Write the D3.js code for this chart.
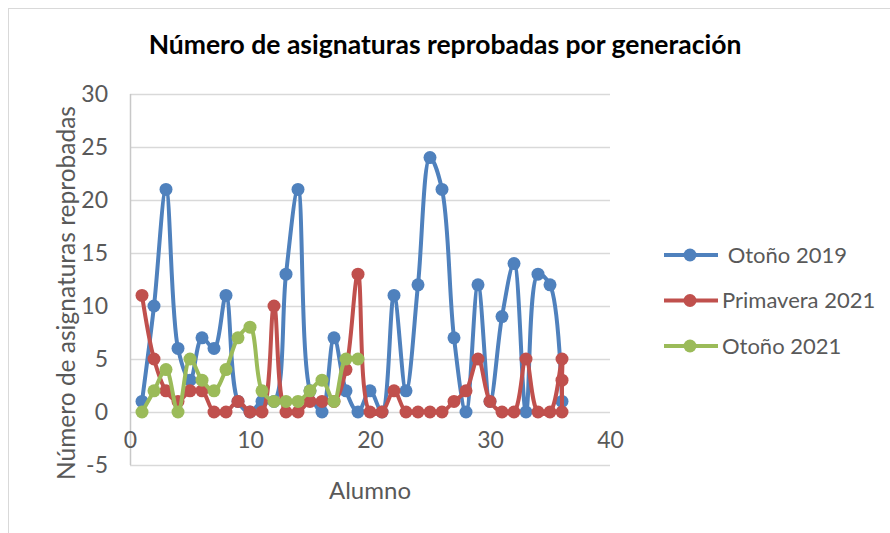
<!DOCTYPE html>
<html>
<head>
<meta charset="utf-8">
<script src="https://cdn.jsdelivr.net/npm/d3@7"></script>
<style>
  html, body { margin: 0; padding: 0; background: #fff; }
  svg { display: block; }
  text { font-family: Lato, "Open Sans", sans-serif; }
</style>
</head>
<body>
<svg id="chart" width="890" height="533"></svg>
<script>
// Alumnos (eje X) y asignaturas reprobadas por generación
const alumnos2019 = [1,2,3,4,5,6,7,8,9,10,11,12,13,14,15,16,17,18,19,20,21,22,23,24,25,26,27,28,29,30,31,32,33,34,35,36];
const otono2019   = [1,10,21,6,3,7,6,11,1,0,1,1,13,21,2,0,7,2,0,2,0,11,2,12,24,21,7,0,12,1,9,14,0,13,12,1];

const alumnosPrim2021 = [1,2,3,4,5,6,7,8,9,10,11,12,13,14,15,16,17,18,19,20,21,22,23,24,25,26,27,28,29,30,31,32,33,34,35,36,36,36];
const primavera2021   = [11,5,2,1,2,2,0,0,1,0,0,10,0,0,1,1,1,4,13,0,0,2,0,0,0,0,1,2,5,1,0,0,5,0,0,5,3,0];

const alumnos2021 = [1,2,3,4,5,6,7,8,9,10,11,12,13,14,15,16,17,18,19];
const otono2021   = [0,2,4,0,5,3,2,4,7,8,2,1,1,1,2,3,1,5,5];

const seriesNames  = [" Otoño 2019", "Primavera 2021", "Otoño 2021"];
const seriesColors = ["#4F81BD", "#C0504D", "#9BBB59"];

const xTicks = [0, 10, 20, 30, 40];
const yTicks = [-5, 0, 5, 10, 15, 20, 25, 30];

const title  = "Número de asignaturas reprobadas por generación";
const xTitle = "Alumno";
const yTitle = "Número de asignaturas reprobadas";

const series = [
  { name: seriesNames[0], color: seriesColors[0], xs: alumnos2019,     ys: otono2019 },
  { name: seriesNames[1], color: seriesColors[1], xs: alumnosPrim2021, ys: primavera2021 },
  { name: seriesNames[2], color: seriesColors[2], xs: alumnos2021,     ys: otono2021 }
];

const svg = d3.select("#chart");
const textColor = "#595959";
const gridColor = "#D9D9D9";

// chart area border
svg.append("rect")
  .attr("x", 8.5).attr("y", 8.5)
  .attr("width", 900).attr("height", 600)
  .attr("fill", "none").attr("stroke", gridColor).attr("stroke-width", 1);

const x = d3.scaleLinear().domain([0, 40]).range([130, 610]);
const y = d3.scaleLinear().domain([-5, 30]).range([465, 94]);

// horizontal gridlines
svg.append("g").selectAll("line")
  .data(yTicks)
  .join("line")
  .attr("x1", x(0)).attr("x2", x(40))
  .attr("y1", d => Math.round(y(d)) + 0.5).attr("y2", d => Math.round(y(d)) + 0.5)
  .attr("stroke", gridColor).attr("stroke-width", 1.5);

// vertical axis line
svg.append("line")
  .attr("x1", x(0) + 0.5).attr("x2", x(0) + 0.5)
  .attr("y1", y(30)).attr("y2", y(-5))
  .attr("stroke", "#C8C8C8").attr("stroke-width", 1.5);

// y axis labels (plain hyphen for negatives)
const yAxis = svg.append("g")
  .attr("transform", `translate(${x(0)},0)`)
  .call(d3.axisLeft(y).tickValues(yTicks).tickSize(0).tickPadding(22).tickFormat(d => String(d)));
yAxis.select(".domain").remove();
yAxis.selectAll("text")
  .attr("fill", textColor)
  .style("font-size", "23px");

// x axis labels, placed beside the axis crossing at y = 0
const xAxis = svg.append("g")
  .attr("transform", `translate(0,${y(0)})`)
  .call(d3.axisBottom(x).tickValues(xTicks).tickSize(0).tickPadding(20).tickFormat(d => String(d)));
xAxis.select(".domain").remove();
xAxis.selectAll("text")
  .attr("fill", textColor)
  .style("font-size", "23px");

// smoothed lines with markers, one series at a time
const line = d3.line()
  .x(d => x(d[0]))
  .y(d => y(d[1]))
  .curve(d3.curveCatmullRom.alpha(0.5));

series.forEach(s => {
  const pts = s.xs.map((v, i) => [v, s.ys[i]]);
  const g = svg.append("g");
  g.append("path")
    .datum(pts)
    .attr("d", line)
    .attr("fill", "none")
    .attr("stroke", s.color)
    .attr("stroke-width", 4)
    .attr("stroke-linejoin", "round")
    .attr("stroke-linecap", "round");
  g.selectAll("circle")
    .data(pts)
    .join("circle")
    .attr("cx", d => x(d[0]))
    .attr("cy", d => y(d[1]))
    .attr("r", 6.5)
    .attr("fill", s.color);
});

// title
svg.append("text")
  .attr("x", 445).attr("y", 54)
  .attr("text-anchor", "middle")
  .attr("fill", "#000")
  .style("font-size", "26.5px")
  .style("font-weight", "bold")
  .text(title);

// axis titles
svg.append("text")
  .attr("x", 370).attr("y", 499)
  .attr("text-anchor", "middle")
  .attr("fill", textColor)
  .style("font-size", "24px")
  .text(xTitle);

svg.append("text")
  .attr("transform", "translate(75,293) rotate(-90)")
  .attr("text-anchor", "middle")
  .attr("fill", textColor)
  .style("font-size", "24.5px")
  .text(yTitle);

// legend
const legend = svg.append("g");
series.forEach((s, i) => {
  const cy = 255 + i * 45.5;
  legend.append("line")
    .attr("x1", 664).attr("x2", 718)
    .attr("y1", cy).attr("y2", cy)
    .attr("stroke", s.color).attr("stroke-width", 4);
  legend.append("circle")
    .attr("cx", 690).attr("cy", cy).attr("r", 6.5)
    .attr("fill", s.color);
  legend.append("text")
    .attr("x", 722).attr("y", cy)
    .attr("dy", "0.35em")
    .attr("fill", textColor)
    .style("font-size", "22px")
    .style("white-space", "pre")
    .text(s.name);
});
</script>
</body>
</html>
